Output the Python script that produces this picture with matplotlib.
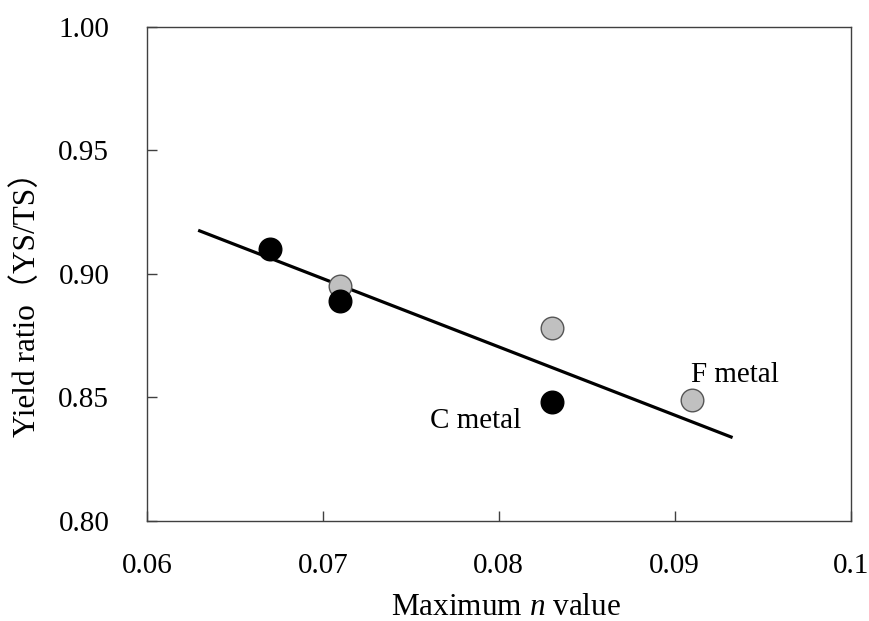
import matplotlib.pyplot as plt

# Maximum n value vs. yield ratio for the two weld metals
n_c = [0.067, 0.071, 0.083]
yr_c = [0.910, 0.889, 0.848]
n_f = [0.071, 0.083, 0.091]
yr_f = [0.895, 0.878, 0.849]

# regression line end points
fit_x = [0.0630, 0.0932]
fit_y = [0.9174, 0.8340]

plt.rcParams['font.family'] = ['Liberation Serif', 'Noto Sans CJK JP']
plt.rcParams['font.size'] = 21
plt.rcParams['mathtext.fontset'] = 'custom'
plt.rcParams['mathtext.rm'] = 'Liberation Serif'
plt.rcParams['mathtext.it'] = 'Liberation Serif:italic'

fig = plt.figure(figsize=(8.69, 6.21), dpi=100)
ax = fig.add_axes([0.169, 0.161, 0.810, 0.796])

ax.plot(fit_x, fit_y, color='black', lw=2.3, zorder=2)
ax.scatter(n_f, yr_f, s=265, c='#c0c0c0', edgecolors='#555555', linewidths=1.0, zorder=3)
ax.scatter(n_c, yr_c, s=265, c='black', edgecolors='black', linewidths=1.0, zorder=4)

ax.text(0.0761, 0.8405, 'C metal', ha='left', va='center', fontsize=21)
ax.text(0.0909, 0.8590, 'F metal', ha='left', va='center', fontsize=21)

ax.set_xlim(0.06, 0.1)
ax.set_ylim(0.80, 1.00)
ax.set_xticks([0.06, 0.07, 0.08, 0.09, 0.1])
ax.set_xticklabels(['0.06', '0.07', '0.08', '0.09', '0.1'])
ax.set_yticks([0.80, 0.85, 0.90, 0.95, 1.00])
ax.set_yticklabels(['0.80', '0.85', '0.90', '0.95', '1.00'])
ax.tick_params(direction='in', length=7, width=1, color='#404040',
               labelsize=21, top=False, right=False)
ax.tick_params(axis='x', pad=23)
ax.tick_params(axis='y', pad=27)
for sp in ax.spines.values():
    sp.set_color('#404040')
    sp.set_linewidth(1.0)

# axis titles placed in figure coordinates
fig.text(506 / 869, 1 - 615 / 621, 'Maximum $n$ value', ha='center', va='baseline', fontsize=22.5)
fig.text(27 / 869, 1 - 297 / 621, 'Yield ratio（YS/TS）', ha='center', va='center',
         rotation=90, fontsize=22.5)

fig.savefig('out.png', dpi=100)
